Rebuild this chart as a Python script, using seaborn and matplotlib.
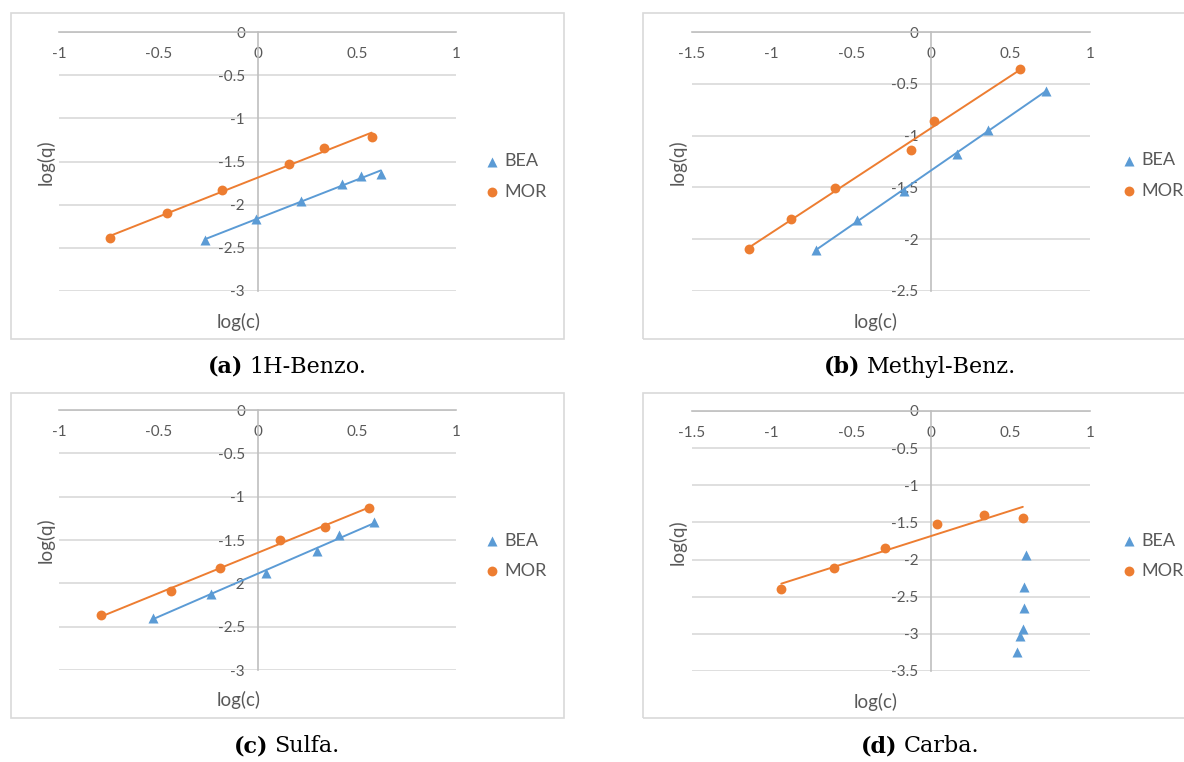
import numpy as np
import pandas as pd
import matplotlib
matplotlib.use("Agg")
import matplotlib.pyplot as plt
import seaborn as sns
from matplotlib.patches import Rectangle
from matplotlib.ticker import MultipleLocator, FuncFormatter

# ---------------- data ----------------
series_names = ["BEA", "MOR"]
captions_bold = ["(a)", "(b)", "(c)", "(d)"]
captions_text = ["1H-Benzo.", "Methyl-Benz.", "Sulfa.", "Carba."]
x_axis_title = "log(c)"
y_axis_title = "log(q)"

# (a) 1H-Benzo.
a_bea_x = [-0.266, -0.009, 0.220, 0.425, 0.520, 0.621]
a_bea_y = [-2.413, -2.166, -1.961, -1.761, -1.668, -1.645]
a_mor_x = [-0.742, -0.454, -0.178, 0.161, 0.333, 0.575]
a_mor_y = [-2.382, -2.097, -1.834, -1.529, -1.347, -1.212]

# (b) Methyl-Benz.
b_bea_x = [-0.723, -0.465, -0.170, 0.166, 0.361, 0.721]
b_bea_y = [-2.103, -1.817, -1.534, -1.180, -0.945, -0.566]
b_mor_x = [-1.143, -0.880, -0.601, -0.122, 0.023, 0.562]
b_mor_y = [-2.096, -1.801, -1.508, -1.135, -0.855, -0.360]

# (c) Sulfa.
c_bea_x = [-0.527, -0.236, 0.042, 0.302, 0.412, 0.586]
c_bea_y = [-2.400, -2.119, -1.876, -1.626, -1.448, -1.294]
c_mor_x = [-0.786, -0.436, -0.189, 0.114, 0.341, 0.564]
c_mor_y = [-2.369, -2.092, -1.818, -1.502, -1.348, -1.129]

# (d) Carba.
d_bea_x = [0.596, 0.587, 0.587, 0.580, 0.558, 0.544]
d_bea_y = [-1.937, -2.369, -2.658, -2.937, -3.032, -3.248]
d_mor_x = [-0.939, -0.605, -0.286, 0.041, 0.336, 0.578]
d_mor_y = [-2.396, -2.108, -1.838, -1.518, -1.405, -1.437]

# ---------------- style ----------------
sns.set_theme(style="white")
plt.rcParams["font.family"] = ["Lato", "DejaVu Sans"]
plt.rcParams["axes.unicode_minus"] = False

BLUE = "#5B9BD5"
ORANGE = "#ED7D31"
GRID = "#D9D9D9"
AXIS = "#BFBFBF"
TXT = "#595959"
BORDER = "#D9D9D9"

W, H = 1184, 762
fig = plt.figure(figsize=(W / 100, H / 100), dpi=100)
fig.patch.set_facecolor("white")


def fx(px):
    return px / W


def fy(py):
    return 1 - py / H


def fmt(v, pos):
    if abs(v) < 1e-9:
        return "0"
    return f"{v:g}"


panels = [
    dict(box=(59, 32, 456, 291), xlim=(-1, 1), ylim=(-3, 0),
         border=(11, 13, 564, 339), leg=(485, 176.5), ylab=(46, 162), xlab=(239, 322),
         cap=(287, 367), bea=(a_bea_x, a_bea_y, True), mor=(a_mor_x, a_mor_y, True)),
    dict(box=(692, 32, 1090, 291), xlim=(-1.5, 1), ylim=(-2.5, 0),
         border=(643, 13, 1200, 339), leg=(1122, 175.5), ylab=(678, 162), xlab=(876, 322),
         cap=(920, 367), bea=(b_bea_x, b_bea_y, True), mor=(b_mor_x, b_mor_y, True)),
    dict(box=(59, 410, 456, 670), xlim=(-1, 1), ylim=(-3, 0),
         border=(11, 393, 564, 718), leg=(485, 556), ylab=(46, 540), xlab=(239, 700),
         cap=(287, 746), bea=(c_bea_x, c_bea_y, True), mor=(c_mor_x, c_mor_y, True)),
    dict(box=(692, 411, 1090, 671), xlim=(-1.5, 1), ylim=(-3.5, 0),
         border=(643, 393, 1200, 718), leg=(1122, 556), ylab=(678, 542), xlab=(876, 702),
         cap=(920, 746), bea=(d_bea_x, d_bea_y, False), mor=(d_mor_x, d_mor_y, True)),
]

for i, p in enumerate(panels):
    bx0, by0, bx1, by1 = p["border"]
    fig.add_artist(Rectangle((fx(bx0), fy(by1)), (bx1 - bx0) / W, (by1 - by0) / H,
                             transform=fig.transFigure, fill=False,
                             edgecolor=BORDER, lw=1.2))

    x0, y0, x1, y1 = p["box"]
    ax = fig.add_axes([fx(x0), fy(y1), (x1 - x0) / W, (y1 - y0) / H])
    ax.set_facecolor("none")

    for name, (sx, sy, trend), col, mk, sz in [
        ("BEA", p["bea"], BLUE, "^", 52),
        ("MOR", p["mor"], ORANGE, "o", 50),
    ]:
        df = pd.DataFrame({"x": sx, "y": sy})
        if trend:
            sns.regplot(data=df, x="x", y="y", ax=ax, scatter=False, ci=None,
                        color=col, line_kws=dict(lw=1.4, zorder=2))
        sns.scatterplot(data=df, x="x", y="y", ax=ax, marker=mk, color=col, s=sz,
                        linewidth=0, label=name, zorder=3)

    ax.set_xlim(*p["xlim"])
    ax.set_ylim(*p["ylim"])
    ax.set_xlabel("")
    ax.set_ylabel("")

    for s in ["top", "right"]:
        ax.spines[s].set_visible(False)
    ax.spines["left"].set_position(("data", 0))
    ax.spines["bottom"].set_position(("data", 0))
    for s in ["left", "bottom"]:
        ax.spines[s].set_color(AXIS)
        ax.spines[s].set_linewidth(1.2)
        ax.spines[s].set_zorder(1)

    ax.xaxis.set_major_locator(MultipleLocator(0.5))
    ax.yaxis.set_major_locator(MultipleLocator(0.5))
    ax.xaxis.set_major_formatter(FuncFormatter(fmt))
    ax.yaxis.set_major_formatter(FuncFormatter(fmt))
    ax.xaxis.set_ticks_position("bottom")
    ax.yaxis.set_ticks_position("left")
    ax.tick_params(axis="both", length=0, labelsize=11, labelcolor=TXT)
    ax.tick_params(axis="x", pad=11)
    ax.tick_params(axis="y", pad=9)
    ax.yaxis.grid(True, color=GRID, lw=1.2)
    ax.xaxis.grid(False)
    ax.set_axisbelow(True)

    h, l = ax.get_legend_handles_labels()
    lx, ly = p["leg"]
    ax.legend(h, l, loc="center left", bbox_to_anchor=(fx(lx), fy(ly)),
              bbox_transform=fig.transFigure, frameon=False, fontsize=13,
              labelcolor=TXT, handlelength=0.75, handletextpad=0.3,
              labelspacing=0.8, borderpad=0, borderaxespad=0, markerscale=1.0)

    fig.text(fx(p["ylab"][0]), fy(p["ylab"][1]), y_axis_title, rotation=90,
             ha="center", va="center", fontsize=13.5, color=TXT)
    fig.text(fx(p["xlab"][0]), fy(p["xlab"][1]), x_axis_title,
             ha="center", va="center", fontsize=13.5, color=TXT)

# captions (bold label + regular text, centred as a pair)
renderer = fig.canvas.get_renderer()
for i, p in enumerate(panels):
    cx, cy = p["cap"]
    t1 = fig.text(0, fy(cy), captions_bold[i], ha="left", va="center",
                  fontsize=16, fontweight="bold", family="DejaVu Serif", color="black")
    t2 = fig.text(0, fy(cy), captions_text[i], ha="left", va="center",
                  fontsize=16, family="DejaVu Serif", color="black")
    w1 = t1.get_window_extent(renderer).width
    w2 = t2.get_window_extent(renderer).width
    gap = 6
    start = cx - (w1 + gap + w2) / 2
    t1.set_x(fx(start))
    t2.set_x(fx(start + w1 + gap))

fig.savefig("out.png", dpi=100, facecolor="white")
